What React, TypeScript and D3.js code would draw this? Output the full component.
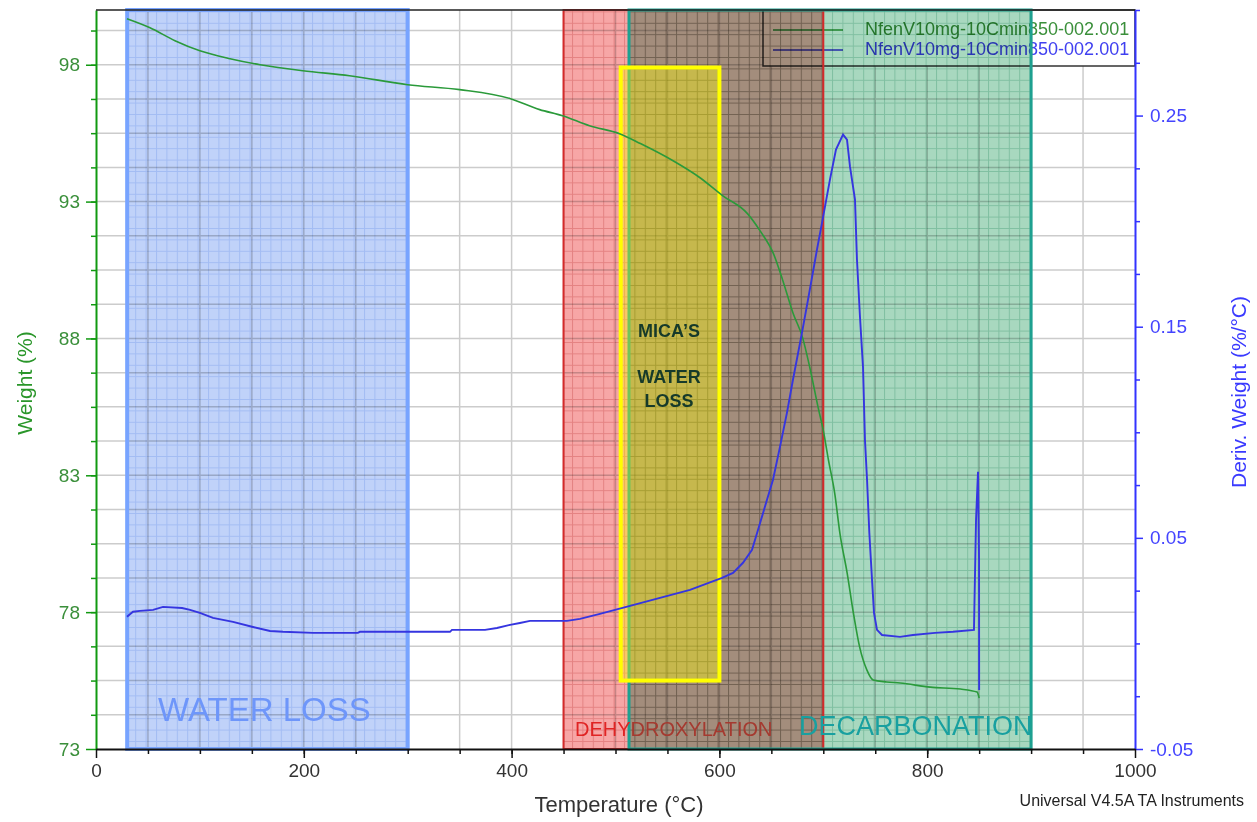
import React, { useRef, useEffect } from "react";
import * as d3 from "d3";

// weight curve (left axis)
const weightTemp = [29.8, 52, 76, 100, 129, 158, 199, 244, 300, 350, 399, 427, 449, 475, 504, 524, 555, 581, 603, 627, 639, 652, 661, 671, 680, 687, 695, 700, 705, 711, 716, 723, 729, 735, 742, 748, 761, 774, 803, 832, 848, 850];
const weightPct = [99.68, 99.35, 98.88, 98.51, 98.22, 98.0, 97.78, 97.6, 97.27, 97.09, 96.76, 96.36, 96.14, 95.77, 95.48, 95.12, 94.5, 93.88, 93.22, 92.56, 91.94, 91.1, 90.12, 88.91, 88.04, 86.94, 85.48, 84.64, 83.55, 82.34, 80.88, 79.42, 77.96, 76.72, 75.88, 75.52, 75.45, 75.41, 75.26, 75.19, 75.08, 74.86];

// derivative curve (right axis)
const derivTemp = [29.8, 35.6, 42.3, 54.9, 64.5, 82.8, 90.5, 100, 112.6, 131.9, 151.1, 167.5, 180, 208.9, 252, 254, 299, 340.7, 342.6, 374.4, 385.9, 398.5, 408, 417.7, 453.3, 465.8, 485, 514, 542.8, 571.7, 602.5, 613.1, 622.7, 631.4, 637.2, 645.8, 651.6, 658.3, 665, 670.8, 679.5, 685.3, 693.9, 698.8, 706.4, 712.2, 719, 722.8, 725.7, 730.5, 732.4, 735.3, 738.2, 740.1, 742.1, 744.3, 746.9, 748.8, 751.7, 756.5, 773.8, 786.3, 807.5, 824.8, 845, 847, 848.9, 849.9, 850];
const derivVal = [0.0126, 0.015, 0.0154, 0.0159, 0.0173, 0.0168, 0.0159, 0.0145, 0.0121, 0.0102, 0.0078, 0.0059, 0.0055, 0.005, 0.005, 0.0055, 0.0055, 0.0055, 0.0064, 0.0064, 0.0073, 0.0088, 0.0097, 0.0107, 0.0107, 0.0116, 0.014, 0.0178, 0.0216, 0.0254, 0.031, 0.0334, 0.0382, 0.0443, 0.0538, 0.068, 0.0775, 0.0931, 0.1092, 0.1249, 0.1472, 0.1628, 0.1865, 0.1993, 0.2197, 0.2339, 0.241, 0.2386, 0.2258, 0.2102, 0.1818, 0.1547, 0.131, 0.0964, 0.0775, 0.0524, 0.0301, 0.0145, 0.0064, 0.004, 0.0031, 0.004, 0.005, 0.0055, 0.0064, 0.0585, 0.0813, 0.0396, -0.022];

const tempTicks = [0, 200, 400, 600, 800, 1000];
const weightTicks = [73, 78, 83, 88, 93, 98];
const derivTicks = [-0.05, 0.05, 0.15, 0.25];

// shaded annotation regions (temperature ranges)
const zoneNames = ["water", "dehy", "decarb"];
const zoneStart = [30, 450, 513];
const zoneEnd = [300, 700, 900];
// mica box: temperature and weight range
const micaTemp = [505, 600];
const micaWeight = [75.5, 97.9];

const seriesName = "NfenV10mg-10Cmin850-002.001";

const App = () => {
  const svgRef = useRef(null);

  useEffect(() => {
    if (!svgRef.current) return;
    const svg = d3.select(svgRef.current);
    svg.selectAll("*").remove();

    const left = 96, right = 1135, top = 10, bottom = 749;
    const x = d3.scaleLinear().domain([0, 1000]).range([left, right]);
    const yL = d3.scaleLinear().domain([73, 100]).range([bottom, top]);
    const yR = d3.scaleLinear().domain([-0.05, 0.3]).range([bottom, top]);

    const defs = svg.append("defs");
    const addPattern = (id, base, line) => {
      const p = defs.append("pattern").attr("id", id)
        .attr("patternUnits", "userSpaceOnUse")
        .attr("width", 10.4).attr("height", 11.4);
      p.append("rect").attr("width", 10.4).attr("height", 11.4).attr("fill", base);
      p.append("path").attr("d", "M0,0.5H10.4M0.5,0V11.4")
        .attr("stroke", line).attr("stroke-width", 1);
    };
    addPattern("p-water", "#c0d2f9", "#a3bcf3");
    addPattern("p-dehy", "#f7a6a6", "#e48282");
    addPattern("p-decarb", "#a8d8bf", "#80bfa1");

    // grid
    const grid = svg.append("g").attr("stroke", "#cccccc").attr("stroke-width", 1.5);
    d3.range(74.25, 100, 1.25).forEach(v => {
      grid.append("line").attr("x1", left).attr("x2", right).attr("y1", yL(v)).attr("y2", yL(v));
    });
    d3.range(50, 1000, 50).forEach(t => {
      grid.append("line").attr("x1", x(t)).attr("x2", x(t)).attr("y1", top).attr("y2", bottom);
    });

    // legend box (under the shaded zones)
    const leg = svg.append("g");
    leg.append("rect").attr("x", 763).attr("y", top).attr("width", right - 763).attr("height", 56)
      .attr("fill", "#fff").attr("stroke", "#333").attr("stroke-width", 1.5);
    [["#2a9a3a", 30], ["#3535e0", 50]].forEach(([c, yy]) => {
      leg.append("line").attr("x1", 773).attr("x2", 843).attr("y1", yy).attr("y2", yy)
        .attr("stroke", c).attr("stroke-width", 1.5);
      leg.append("text").attr("x", 865).attr("y", +yy + 5).attr("font-size", 18)
        .attr("fill", c === "#2a9a3a" ? "#3a8f3a" : "#4040f0").text(seriesName);
    });

    // shaded zones: fills blended, borders drawn plain on top
    const zoneStyle = {
      water: { fill: "url(#p-water)", stroke: "#78a4ff", sw: 4 },
      dehy: { fill: "url(#p-dehy)", stroke: "#d42a2a", sw: 2 },
      decarb: { fill: "url(#p-decarb)", stroke: "#1ea090", sw: 3 },
    };
    zoneNames.forEach((n, i) => {
      svg.append("rect")
        .attr("x", x(zoneStart[i])).attr("y", top)
        .attr("width", x(zoneEnd[i]) - x(zoneStart[i])).attr("height", bottom - top)
        .attr("fill", zoneStyle[n].fill)
        .style("mix-blend-mode", "multiply");
    });
    zoneNames.forEach((n, i) => {
      svg.append("rect")
        .attr("x", x(zoneStart[i])).attr("y", top)
        .attr("width", x(zoneEnd[i]) - x(zoneStart[i])).attr("height", bottom - top)
        .attr("fill", "none").attr("stroke", zoneStyle[n].stroke).attr("stroke-width", zoneStyle[n].sw);
    });
    svg.append("rect")
      .attr("x", x(micaTemp[0])).attr("y", yL(micaWeight[1]))
      .attr("width", x(micaTemp[1]) - x(micaTemp[0]))
      .attr("height", yL(micaWeight[0]) - yL(micaWeight[1]))
      .attr("fill", "rgba(255,255,0,0.38)").attr("stroke", "#ffff00").attr("stroke-width", 4);

    // zone labels
    svg.append("text").attr("x", 158).attr("y", 721).attr("font-size", 33)
      .attr("fill", "#6e96fa").text("WATER LOSS");
    const dt = svg.append("text").attr("x", 575).attr("y", 736).attr("font-size", 20);
    dt.append("tspan").attr("fill", "#e02424").text("DEHY");
    dt.append("tspan").attr("fill", "#a53a30").text("DROXYLATION");
    svg.append("text").attr("x", 799).attr("y", 735).attr("font-size", 27)
      .attr("fill", "#18a0a0").text("DECARBONATION");
    const mica = svg.append("g").attr("font-size", 18).attr("font-weight", "bold")
      .attr("fill", "#163a2a").attr("text-anchor", "middle");
    [["MICA\u2019S", 337], ["WATER", 383], ["LOSS", 407]].forEach(([t, yy]) => {
      mica.append("text").attr("x", 669).attr("y", yy).text(t);
    });

    // curves
    const weightLine = d3.line().x(d => x(d[0])).y(d => yL(d[1])).curve(d3.curveMonotoneX);
    const derivLine = d3.line().x(d => x(d[0])).y(d => yR(d[1]));
    svg.append("path").datum(weightTemp.map((t, i) => [t, weightPct[i]]))
      .attr("d", weightLine).attr("fill", "none").attr("stroke", "#2a9a3a").attr("stroke-width", 1.6);
    svg.append("path").datum(derivTemp.map((t, i) => [t, derivVal[i]]))
      .attr("d", derivLine).attr("fill", "none").attr("stroke", "#3535e0").attr("stroke-width", 1.9);

    // axes
    const styleAxis = (g, color, labelColor) => {
      g.select(".domain").attr("stroke", color).attr("stroke-width", 2);
      g.selectAll(".tick line").attr("stroke", color).attr("stroke-width", 1.5);
      g.selectAll(".tick text").attr("fill", labelColor).attr("font-size", 19)
        .attr("font-family", "'Liberation Sans', Arial, sans-serif");
    };

    const gL = svg.append("g").attr("transform", `translate(${left},0)`)
      .call(d3.axisLeft(yL).tickValues(weightTicks).tickSize(10).tickSizeOuter(0).tickPadding(6));
    styleAxis(gL, "#119911", "#3a8f3a");
    const gLm = svg.append("g").attr("transform", `translate(${left},0)`)
      .call(d3.axisLeft(yL).tickValues(d3.range(74.25, 100, 1.25)).tickSize(5).tickFormat(() => ""));
    gLm.select(".domain").remove();
    gLm.selectAll(".tick line").attr("stroke", "#119911").attr("stroke-width", 1.5);

    const gR = svg.append("g").attr("transform", `translate(${right},0)`)
      .call(d3.axisRight(yR).tickValues(derivTicks).tickSize(8).tickSizeOuter(0).tickPadding(7)
        .tickFormat(d => d.toFixed(2)));
    styleAxis(gR, "#3333ff", "#4444ff");
    const minorR = d3.range(0, 15).map(k => -0.025 + k * 0.025).filter((v, k) => k % 4 !== 3);
    const gRm = svg.append("g").attr("transform", `translate(${right},0)`)
      .call(d3.axisRight(yR).tickValues(minorR).tickSize(5).tickFormat(() => ""));
    gRm.select(".domain").remove();
    gRm.selectAll(".tick line").attr("stroke", "#3333ff").attr("stroke-width", 1.5);

    const gB = svg.append("g").attr("transform", `translate(0,${bottom})`)
      .call(d3.axisBottom(x).tickValues(tempTicks).tickSize(9).tickSizeOuter(0).tickPadding(6)
        .tickFormat(d3.format("d")));
    styleAxis(gB, "#111", "#333");
    const gBm = svg.append("g").attr("transform", `translate(0,${bottom})`)
      .call(d3.axisBottom(x).tickValues(d3.range(50, 1000, 50)).tickSize(5).tickFormat(() => ""));
    gBm.select(".domain").remove();
    gBm.selectAll(".tick line").attr("stroke", "#111").attr("stroke-width", 1.5);

    svg.append("line").attr("x1", left).attr("x2", right).attr("y1", top).attr("y2", top)
      .attr("stroke", "#222").attr("stroke-width", 1.5);

    // titles
    svg.append("text").attr("transform", "translate(32,383) rotate(-90)")
      .attr("text-anchor", "middle").attr("font-size", 21).attr("fill", "#2a962a").text("Weight (%)");
    svg.append("text").attr("transform", "translate(1246,392) rotate(-90)")
      .attr("text-anchor", "middle").attr("font-size", 21).attr("fill", "#3a3aff").text("Deriv. Weight (%/\u00b0C)");
    svg.append("text").attr("x", 619).attr("y", 812).attr("text-anchor", "middle")
      .attr("font-size", 22).attr("fill", "#333").text("Temperature (\u00b0C)");
    svg.append("text").attr("x", 1244).attr("y", 806).attr("text-anchor", "end")
      .attr("font-size", 16).attr("fill", "#222").text("Universal V4.5A TA Instruments");
  }, []);

  return (
    <svg ref={svgRef} width={1257} height={822}
      fontFamily="'Liberation Sans', Arial, sans-serif"
      style={{ position: "absolute", left: 0, top: 0, background: "#fff" }} />
  );
};

export default App;
